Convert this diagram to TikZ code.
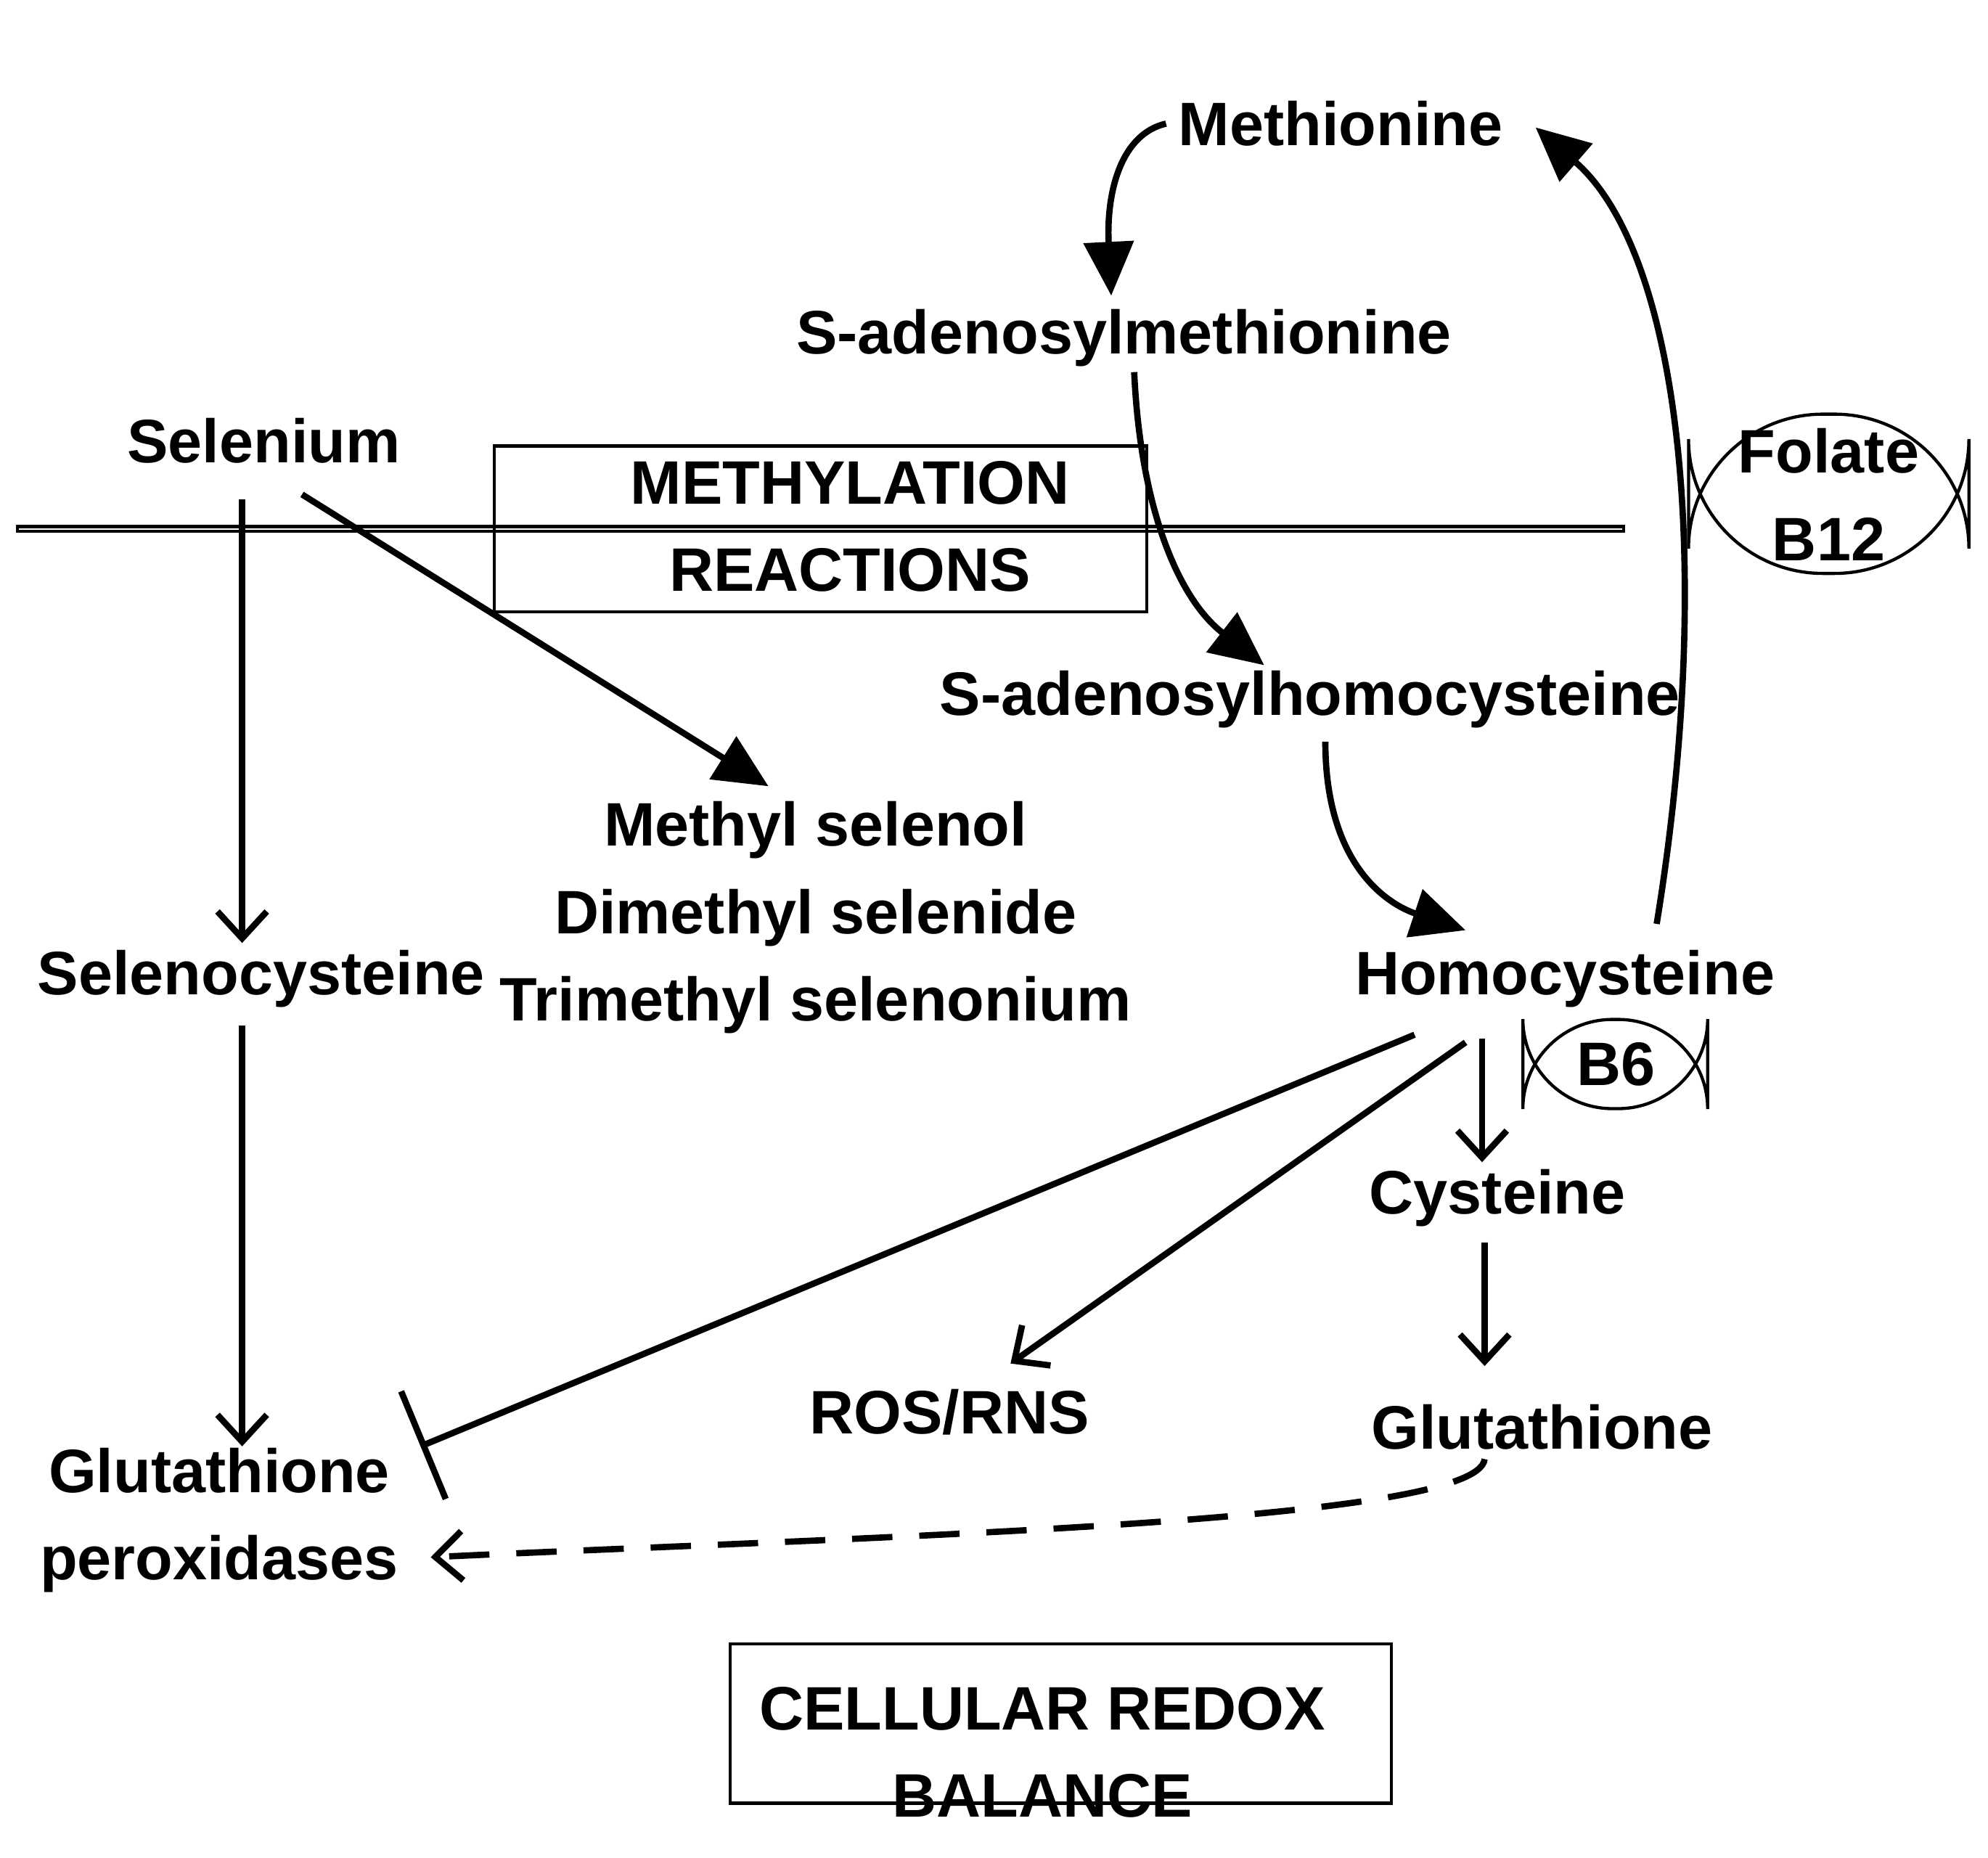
\documentclass[tikz,border=0pt]{standalone}
\usepackage{fontspec}
\setmainfont{Liberation Sans}
\usetikzlibrary{arrows.meta}
\begin{document}
\begin{tikzpicture}[x=0.01cm,y=-0.01cm,
  lbl/.style={font=\fontsize{13.7}{15.5}\selectfont\bfseries,inner sep=0pt,align=center},
  ln/.style={line width=1.4pt},
  big/.style={ln,-{Triangle[length=12pt,width=11pt]}},
  chev/.style={ln,-{Straight Barb[length=6pt,width=11pt,line width=1.4pt]}},
  box/.style={draw,line width=0.7pt}]
\useasboundingbox (0,0) rectangle (1560,1458);
\node[lbl] (met) at (1052,97) {Methionine};
\node[lbl] (sam) at (882,265) {S-adenosylmethionine};
\node[lbl] (se) at (207,346) {Selenium};
\node[box,minimum width=512\pgflinewidth,inner sep=0pt] (mr) at (644,415) {};
\draw[box] (388,350) rectangle (900,480);
\node[lbl] (mrt) at (667,413) {METHYLATION\\[4pt]REACTIONS};
\draw[box,rounded corners=30pt] (1325,325) rectangle (1545,450);
\node[lbl] (fol) at (1435,388) {Folate\\[4pt]B12};
\node[lbl] (sah) at (1028,549) {S-adenosylhomocysteine};
\node[lbl] (ms) at (640,720) {Methyl selenol\\[4pt]Dimethyl selenide\\[4pt]Trimethyl selenonium};
\node[lbl] (sec) at (205,768) {Selenocysteine};
\node[lbl] (hcy) at (1228,768) {Homocysteine};
\draw[box,rounded corners=20pt] (1195,800) rectangle (1340,870);
\node[lbl] (b6) at (1268,835) {B6};
\node[lbl] (cys) at (1175,940) {Cysteine};
\node[lbl] (ros) at (745,1108) {ROS/RNS};
\node[lbl] (gsh) at (1210,1120) {Glutathione};
\node[lbl] (gpx) at (172,1193) {Glutathione\\[4pt]peroxidases};
\draw[box] (573,1290) rectangle (1092,1415);
\node[lbl] (crb) at (818,1375) {CELLULAR REDOX\\[4pt]BALANCE};
% coordinates
\coordinate (a1) at (915,97); \coordinate (a2) at (872,232);
\coordinate (b1) at (890,292); \coordinate (b2) at (992,522);
\coordinate (c1) at (1040,582); \coordinate (c2) at (1150,730);
\coordinate (d1) at (1300,725); \coordinate (d2) at (1205,100);
\coordinate (e1) at (190,392); \coordinate (e2) at (190,740);
\coordinate (f1) at (237,388); \coordinate (f2) at (603,617);
\coordinate (g1) at (190,805); \coordinate (g2) at (190,1135);
\coordinate (h1) at (1110,812); \coordinate (h2) at (330,1135);
\coordinate (i1) at (1150,818); \coordinate (i2) at (793,1070);
\coordinate (j1) at (1163,815); \coordinate (j2) at (1163,912);
\coordinate (k1) at (1165,975); \coordinate (k2) at (1165,1072);
\coordinate (l1) at (1165,1145); \coordinate (l2) at (338,1222);
\draw[big] (a1) .. controls (880,105) and (868,150) .. (a2);
\draw[big] (b1) .. controls (895,400) and (925,470) .. (b2);
\draw[big] (c1) .. controls (1040,680) and (1090,710) .. (c2);
\draw[big] (d1) .. controls (1345,450) and (1320,200) .. (d2);
\draw[chev] (e1) -- (e2);
\draw[big] (f1) -- (f2);
\draw[chev] (g1) -- (g2);
\draw[ln,-{Bar[width=26pt,line width=1.4pt]}] (h1) -- (h2);
\draw[chev] (i1) -- (i2);
\draw[chev] (j1) -- (j2);
\draw[chev] (k1) -- (k2);
\draw[chev,dash pattern=on 9pt off 6pt] (l1) .. controls (1160,1195) and (700,1205) .. (l2);
\end{tikzpicture}
\end{document}
